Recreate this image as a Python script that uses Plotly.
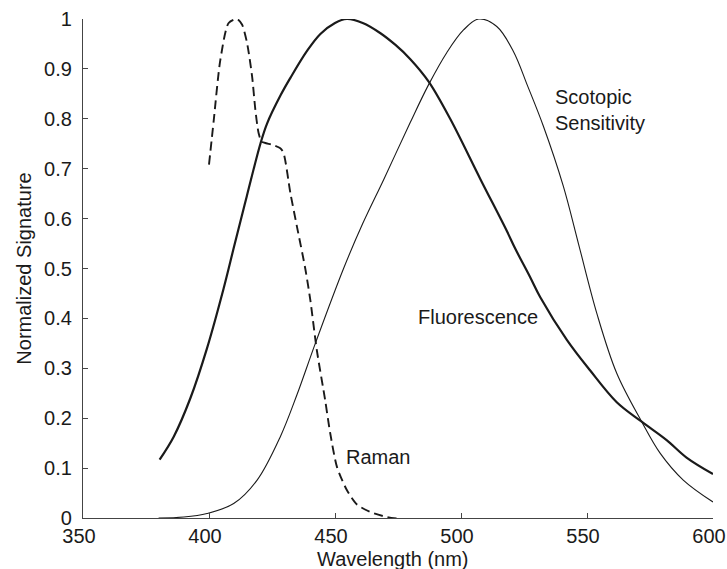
import plotly.graph_objects as go

# Fluorescence (thick solid)
fluor_nm = [380.4, 386.0, 392.6, 399.2, 405.8, 410.0, 415.0, 420.4, 423.0, 428.5, 432.3, 438.9, 444.2,
            450.0, 454.7, 461.0, 467.9, 474.0, 479.8, 487.1, 495.7, 507.6, 518.2, 521.5, 527.4,
            531.4, 542.0, 551.2, 561.8, 571.7, 581.6, 589.5, 600.0]
fluor_val = [0.117, 0.163, 0.240, 0.340, 0.460, 0.545, 0.645, 0.750, 0.790, 0.848, 0.882, 0.936, 0.970,
             0.992, 1.0, 0.992, 0.972, 0.948, 0.920, 0.875, 0.800, 0.680, 0.575, 0.540, 0.483,
             0.443, 0.357, 0.296, 0.232, 0.193, 0.156, 0.121, 0.088]

# Scotopic sensitivity (thin solid)
scot_nm = [380.0, 390.0, 399.2, 409.8, 419.1, 428.3, 434.9, 442.2, 453.4, 461.0, 469.3, 479.8, 487.1,
           494.4, 501.0, 507.0, 514.2, 520.8, 526.5, 532.7, 540.6, 546.6, 553.9, 561.8, 571.7, 579.0,
           588.2, 600.0]
scot_val = [0.0, 0.002, 0.009, 0.029, 0.076, 0.163, 0.247, 0.350, 0.500, 0.590, 0.678, 0.792, 0.868,
            0.933, 0.978, 1.0, 0.985, 0.935, 0.865, 0.785, 0.665, 0.550, 0.410, 0.290, 0.193, 0.130,
            0.076, 0.032]

# Raman (dashed)
raman_nm = [400.0, 401.9, 404.5, 407.8, 411.1, 413.1, 415.1, 417.1, 418.4, 419.7, 421.0, 425.0, 428.3,
            429.6, 432.3, 434.9, 438.2, 440.2, 442.8, 446.1, 448.1, 450.8, 454.7, 458.7, 464.0, 470.6,
            477.9, 487.0, 497.0]
raman_val = [0.708, 0.798, 0.918, 0.992, 1.0, 0.989, 0.952, 0.885, 0.818, 0.771, 0.754, 0.748, 0.741,
             0.731, 0.651, 0.584, 0.500, 0.437, 0.336, 0.236, 0.170, 0.102, 0.056, 0.027, 0.012, 0.002,
             -0.003, -0.006, -0.008]

x_ticks = [350, 400, 450, 500, 550, 600]
y_ticks = [0, 0.1, 0.2, 0.3, 0.4, 0.5, 0.6, 0.7, 0.8, 0.9, 1]
y_tick_text = ["0", "0.1", "0.2", "0.3", "0.4", "0.5", "0.6", "0.7", "0.8", "0.9", "1"]

labels = ["Scotopic<br>Sensitivity", "Fluorescence", "Raman"]
label_x = [536.6, 482.2, 453.4]
label_y = [0.818, 0.403, 0.122]

x_title = "Wavelength (nm)"
y_title = "Normalized Signature"

FONT = "Liberation Sans, Arial, sans-serif"
INK = "#1a1a1a"
FS = 20

fig = go.Figure()
fig.add_trace(go.Scatter(x=scot_nm, y=scot_val, mode="lines",
                         line=dict(color=INK, width=1.1, shape="spline", smoothing=1.0)))
fig.add_trace(go.Scatter(x=fluor_nm, y=fluor_val, mode="lines",
                         line=dict(color=INK, width=2.2, shape="spline", smoothing=1.0)))
fig.add_trace(go.Scatter(x=raman_nm, y=raman_val, mode="lines",
                         line=dict(color=INK, width=1.9, dash="9px,5px", shape="spline", smoothing=0.7)))

for t, x, y in zip(labels, label_x, label_y):
    fig.add_annotation(x=x, y=y, text=t, showarrow=False, xanchor="left", yanchor="middle",
                       align="left", font=dict(family=FONT, size=FS, color=INK))

# axis titles
fig.add_annotation(xref="paper", yref="paper", x=0.492, y=-0.082, text=x_title, showarrow=False,
                   xanchor="center", yanchor="middle", font=dict(family=FONT, size=FS, color=INK))
fig.add_annotation(xref="paper", yref="paper", x=-0.095, y=0.5, text=y_title, showarrow=False,
                   textangle=-90, xanchor="center", yanchor="middle",
                   font=dict(family=FONT, size=FS, color=INK))

axis_common = dict(showgrid=False, zeroline=False, showline=True, linecolor="#444", linewidth=1.2,
                   ticks="inside", ticklen=5, tickcolor="#444", tickwidth=1.2,
                   ticklabeloverflow="allow", automargin=False,
                   tickfont=dict(family=FONT, size=FS, color=INK))

fig.update_xaxes(range=[350, 600], tickvals=x_ticks, ticktext=[str(v) for v in x_ticks],
                 ticklabelstandoff=0, ticklabelshift=-4, **axis_common)
fig.update_yaxes(range=[0, 1], tickvals=y_ticks, ticktext=y_tick_text,
                 ticklabelstandoff=6, **axis_common)

fig.update_layout(width=727, height=569, margin=dict(l=83, r=14, t=19, b=51),
                  paper_bgcolor="white", plot_bgcolor="white", showlegend=False)

fig.write_html("out.html")
